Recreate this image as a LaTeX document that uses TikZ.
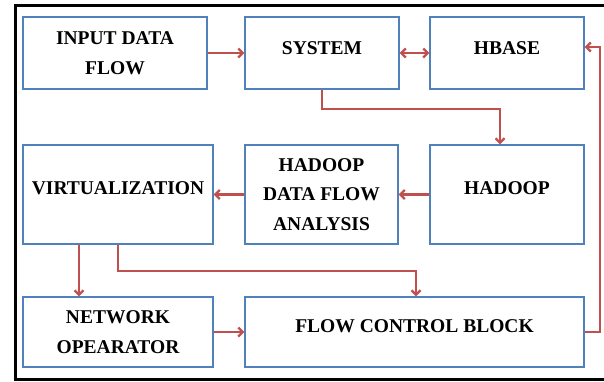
\documentclass[tikz,border=0pt]{standalone}
\usepackage{fontspec}
\setmainfont{Liberation Serif}
\usepackage{tikz}
\usetikzlibrary{arrows.meta, positioning}

\definecolor{boxblue}{RGB}{79,129,189}
\definecolor{arrred}{RGB}{192,80,77}

\tikzset{
	blk/.style={draw=boxblue, line width=1.4pt, fill=white, inner sep=0pt, align=center,
		font=\fontsize{19.5}{29.5}\selectfont\bfseries},
	arr/.style={draw=arrred, line width=2.2pt, -{Straight Barb[length=4.5pt,width=9pt]}},
	arrb/.style={draw=arrred, line width=2.2pt, {Straight Barb[length=4.5pt,width=9pt]}-{Straight Barb[length=4.5pt,width=9pt]}}
}

\begin{document}
\begin{tikzpicture}[x=1pt, y=-1pt]
		\useasboundingbox (0,0) rectangle (604,381);
		% Draw frame
		\draw[line width=3pt] (610,5.5) -- (15.5,5.5) -- (15.5,379) -- (610,379);
		% Draw blocks
		\node[blk, minimum width=184pt, minimum height=72pt] (input) at (115,53) {INPUT DATA\\FLOW};
		\node[blk, minimum width=154pt, minimum height=72pt, text depth=9pt] (system) at (322,53) {SYSTEM};
		\node[blk, minimum width=154pt, minimum height=72pt, text depth=9pt] (hbase) at (507,53) {HBASE};
		\node[blk, minimum width=190pt, minimum height=99pt, text depth=12pt] (virt) at (118,194.5) {VIRTUALIZATION};
		\node[blk, minimum width=153pt, minimum height=99pt] (hdfa) at (321.5,194.5) {HADOOP\\DATA FLOW\\ANALYSIS};
		\node[blk, minimum width=154pt, minimum height=99pt, text depth=12pt] (hadoop) at (507,194.5) {HADOOP};
		\node[blk, minimum width=190pt, minimum height=70pt] (netop) at (118,332) {NETWORK\\OPEARATOR};
		\node[blk, minimum width=339pt, minimum height=70pt, text depth=11pt] (fcb) at (414.5,332) {FLOW CONTROL BLOCK};
		% Draw connectors
		\draw[arr] (input) -- (system);
		\draw[arrb] (system) -- (hbase);
		\draw[arr] (system.south) -- ++(0,19) -| ([xshift=-7pt]hadoop.north);
		\draw[arr] (hadoop) -- (hdfa);
		\draw[arr] (hdfa) -- (virt);
		\draw[arr] ([xshift=-39pt]virt.south) -- ([xshift=-39pt]netop.north);
		\draw[arr] (virt.south) -- ++(0,26) -| ([xshift=1.5pt]fcb.north);
		\draw[arr] (netop) -- (fcb);
		\draw[arr] (fcb.east) -- ++(15,0) |- ([yshift=6pt]hbase.east);
	\end{tikzpicture}
\end{document}
